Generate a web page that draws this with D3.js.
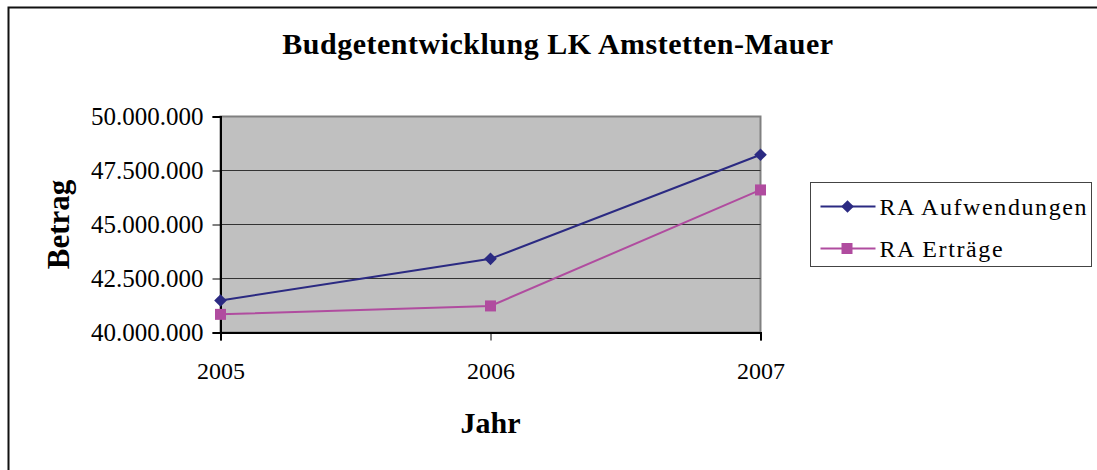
<!DOCTYPE html>
<meta charset="utf-8">
<style>
body { margin: 0; background: #fff; }
svg { display: block; font-family: "Liberation Serif", "Times New Roman", serif; }
.grid line { stroke: #333; stroke-width: 1px; }
.axis path, .axis line { stroke: #000; }
.axis text { font-size: 24px; fill: #000; font-family: "Liberation Serif", "Times New Roman", serif; }
.axis.y text { font-size: 25px; }
</style>
<body>
<script src="https://d3js.org/d3.v7.min.js"></script>
<script>
var years = ["2005", "2006", "2007"];
var aufwendungen = [41480000, 43410000, 48230000];
var ertraege = [40840000, 41230000, 46600000];
var yTicks = [40000000, 42500000, 45000000, 47500000, 50000000];
var seriesNames = ["RA Aufwendungen", "RA Erträge"];

var width = 1097, height = 470;
var margin = {left: 220.5, right: 336.5, top: 116.5, bottom: 137.5};
var w = width - margin.left - margin.right,
    h = height - margin.top - margin.bottom;

var colors = ["#2b2a82", "#b04c9f"];

var svg = d3.select("body").append("svg")
    .attr("width", width)
    .attr("height", height);

// outer chart frame (runs off the right and bottom edge)
svg.append("rect")
    .attr("x", 8.5).attr("y", 7.5)
    .attr("width", 1200).attr("height", 600)
    .attr("fill", "none").attr("stroke", "#111").attr("stroke-width", 2);

var x = d3.scalePoint().domain(years).range([0, w]);
var y = d3.scaleLinear().domain([40000000, 50000000]).range([h, 0]);

var fmt = function(v) { return d3.format(",")(v).replace(/,/g, "."); };

var g = svg.append("g").attr("transform", "translate(" + margin.left + "," + margin.top + ")");

g.append("rect").attr("width", w).attr("height", h)
    .attr("fill", "#c0c0c0").attr("stroke", "#808080").attr("stroke-width", 2);

g.append("g").attr("class", "grid")
    .selectAll("line").data(yTicks.slice(1, -1))
  .enter().append("line")
    .attr("x1", 0).attr("x2", w)
    .attr("y1", function(d) { return Math.round(y(d)) ; })
    .attr("y2", function(d) { return Math.round(y(d)); });

g.append("g").attr("class", "axis y")
    .call(d3.axisLeft(y).tickValues(yTicks).tickFormat(fmt).tickSize(8).tickPadding(9))
    .select(".domain").attr("stroke-width", 2);

g.append("g").attr("class", "axis")
    .attr("transform", "translate(0," + h + ")")
    .call(d3.axisBottom(x).tickSize(8).tickPadding(21))
    .select(".domain").attr("stroke-width", 2);

var line = d3.line()
    .x(function(d, i) { return x(years[i]); })
    .y(function(d) { return y(d); });

[aufwendungen, ertraege].forEach(function(s, k) {
  g.append("path").datum(s)
      .attr("fill", "none")
      .attr("stroke", colors[k])
      .attr("stroke-width", 2)
      .attr("d", line);
});

var diamond = d3.symbol().type(d3.symbolSquare).size(80);
g.selectAll(".m1").data(aufwendungen).enter().append("path")
    .attr("d", diamond)
    .attr("fill", colors[0])
    .attr("transform", function(d, i) { return "translate(" + x(years[i]) + "," + y(d) + ") rotate(45)"; });

g.selectAll(".m2").data(ertraege).enter().append("rect")
    .attr("x", function(d, i) { return x(years[i]) - 5.5; })
    .attr("y", function(d) { return y(d) - 5.5; })
    .attr("width", 11).attr("height", 11)
    .attr("fill", colors[1]);

// title and axis titles
svg.append("text")
    .attr("x", 558).attr("y", 54)
    .attr("text-anchor", "middle")
    .style("font-size", "30px").style("font-weight", "bold").style("letter-spacing", "0.5px")
    .text("Budgetentwicklung LK Amstetten-Mauer");

svg.append("text")
    .attr("transform", "translate(69," + (margin.top + h / 2) + ") rotate(-90)")
    .attr("text-anchor", "middle")
    .style("font-size", "31px").style("font-weight", "bold")
    .text("Betrag");

svg.append("text")
    .attr("x", margin.left + w / 2).attr("y", 433)
    .attr("text-anchor", "middle")
    .style("font-size", "30px").style("font-weight", "bold")
    .text("Jahr");

// legend
var lg = svg.append("g").attr("transform", "translate(810.5,182.5)");
lg.append("rect").attr("width", 281).attr("height", 84)
    .attr("fill", "#fff").attr("stroke", "#444").attr("stroke-width", 1);

seriesNames.forEach(function(n, k) {
  var row = lg.append("g").attr("transform", "translate(0," + (24 + k * 42) + ")");
  row.append("line").attr("x1", 10).attr("x2", 65)
      .attr("stroke", colors[k]).attr("stroke-width", 2);
  if (k === 0) {
    row.append("path").attr("d", diamond).attr("fill", colors[0])
        .attr("transform", "translate(37,0) rotate(45)");
  } else {
    row.append("rect").attr("x", 31).attr("y", -5.5).attr("width", 11).attr("height", 11)
        .attr("fill", colors[1]);
  }
  row.append("text").attr("x", 69).attr("y", 8)
      .style("font-size", "24px").style("letter-spacing", "1.6px")
      .text(n);
});
</script>
</body>
